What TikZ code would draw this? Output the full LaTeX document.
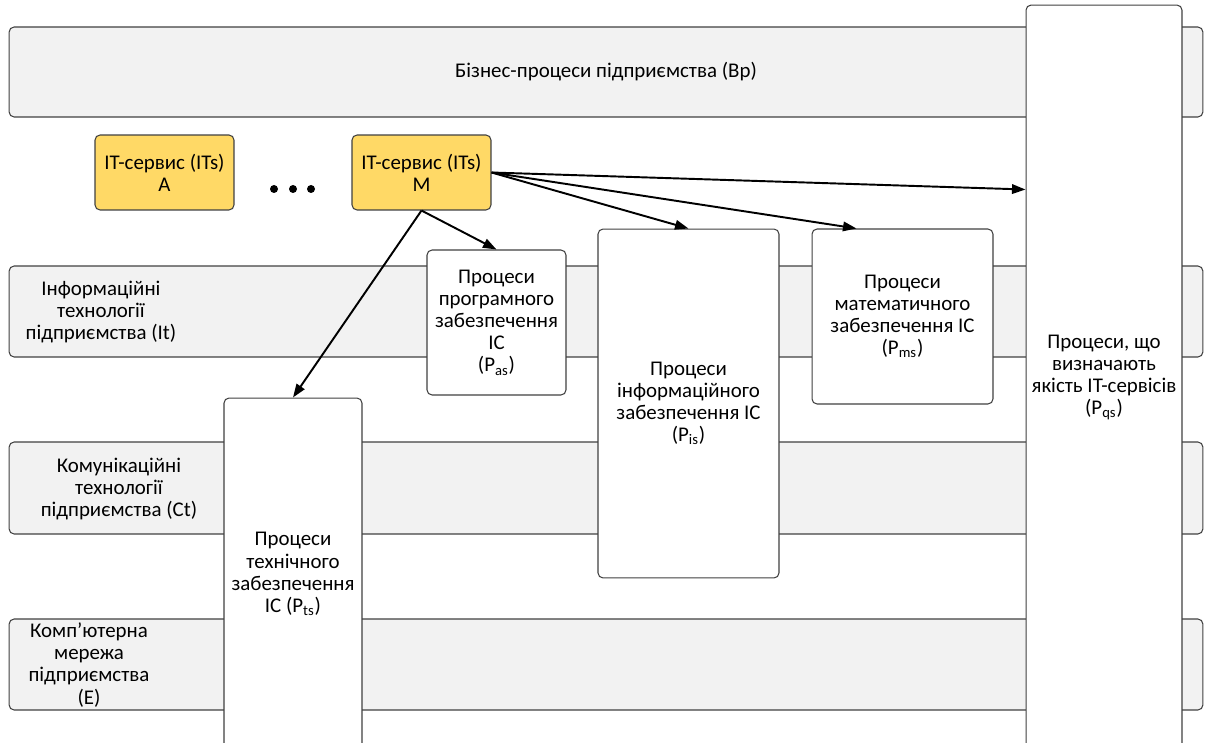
\documentclass[tikz,border=0pt]{standalone}
\usepackage{fontspec}
\setmainfont{Carlito}
\usetikzlibrary{arrows.meta}

\definecolor{bandgray}{HTML}{F2F2F2}
\definecolor{itsgold}{HTML}{FFD966}
\definecolor{edgegray}{HTML}{404040}

\begin{document}
\begin{tikzpicture}[x=0.02cm, y=-0.02cm,
    every node/.style={font=\fontsize{11.9}{12.6}\selectfont, align=center},
    band/.style={draw=edgegray, fill=bandgray, line width=0.6pt, rounded corners=0.1cm,
        minimum width=23.88cm, inner sep=0pt},
    itsbox/.style={draw=edgegray, fill=itsgold, line width=0.6pt, rounded corners=0.1cm,
        minimum width=2.78cm, minimum height=1.5cm, inner sep=0pt},
    procbox/.style={draw=edgegray, fill=white, line width=0.6pt, rounded corners=0.1cm, inner sep=0pt},
    conn/.style={draw=black, line width=1.1pt, -{Triangle[length=0.27cm,width=0.19cm]}}]
    \useasboundingbox (0,0) rectangle (1207,743);

    % layers of the enterprise
    \node[band, minimum height=1.8cm] (bp) at (606,72) {Бізнес-процеси підприємства (Bp)};
    \node[band, minimum height=1.82cm] (it) at (606,311.5) {};
    \node[band, minimum height=1.84cm] (ct) at (606,488) {};
    \node[band, minimum height=1.82cm] (e) at (606,664.5) {};
    \node (itlabel) at (101,312) {Інформаційні\\технології\\підприємства (It)};
    \node (ctlabel) at (119,489) {Комунікаційні\\технології\\підприємства (Ct)};
    \node (elabel) at (89,665) {Комп’ютерна\\мережа\\підприємства\\(E)};

    % IT services
    \node[itsbox] (itsA) at (164.5,172.5) {IT-сервис (ITs)\\A};
    \node[itsbox] (itsM) at (421.5,172.5) {IT-сервис (ITs)\\M};
    \foreach \x in {274,293,311}
        \fill (\x,189) circle (0.08cm);

    % processes
    \node[procbox, minimum width=2.78cm, minimum height=2.9cm] (pas) at (496.5,322.5)
        {Процеси\\програмного\\забезпечення\\IC\\(P\textsubscript{as})};
    \node[procbox, minimum width=3.62cm, minimum height=6.98cm] (pis) at (688.5,403.5)
        {Процеси\\інформаційного\\забезпечення IC\\(P\textsubscript{is})};
    \node[procbox, minimum width=3.62cm, minimum height=3.5cm] (pms) at (902.5,316.5)
        {Процеси\\математичного\\забезпечення IC\\(P\textsubscript{ms})};
    \node[procbox, minimum width=2.76cm, minimum height=7.04cm] (pts) at (293,574)
        {Процеси\\технічного\\забезпечення\\IC (P\textsubscript{ts})};
    \node[procbox, minimum width=3.12cm, minimum height=14.9cm] (pqs) at (1104,377.5)
        {Процеси, що\\визначають\\якість IT-сервісів\\(P\textsubscript{qs})};

    \draw[conn] (itsM.south) -- (pts.north);
    \draw[conn] (itsM.south) -- (pas.north);
    \draw[conn] (itsM.east) -- (pis.north);
    \draw[conn] (itsM.east) -- ([xshift=0.9cm]pms.north west);
    \draw[conn] (itsM.east) -- ([yshift=-3.7cm]pqs.north west);
\end{tikzpicture}
\end{document}
